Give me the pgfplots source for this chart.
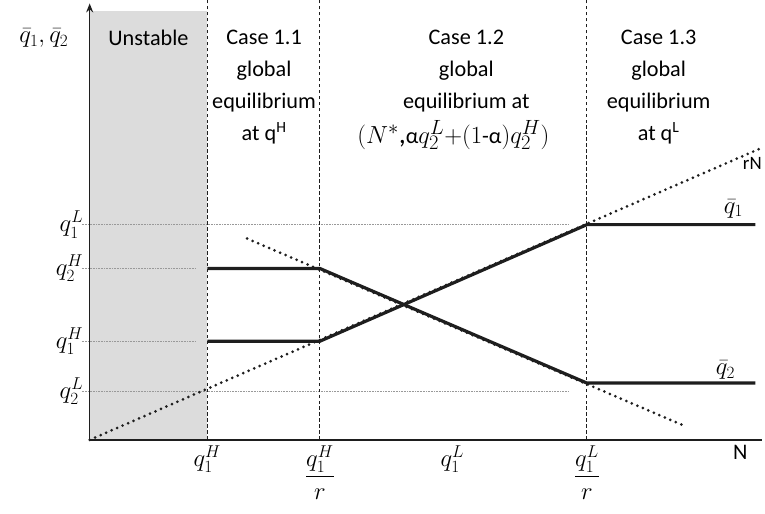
\documentclass[border=0pt]{standalone}
\usepackage{fontspec}
\setmainfont{Carlito}
\usepackage{pgfplots}
\pgfplotsset{compat=1.18}
\usetikzlibrary{arrows.meta}
\definecolor{shade}{RGB}{220,220,220}
\definecolor{ink}{RGB}{30,30,30}

\begin{document}
\begin{tikzpicture}
\begin{axis}[
    x=1bp, y=1bp,
    scale only axis,
    xmin=0, xmax=675,
    ymin=0, ymax=438,
    clip=false,
    axis on top,
    axis lines=left,
    axis line style={line width=1.6bp, draw=ink},
    x axis line style={-},
    y axis line style={-{Stealth[length=9bp,width=7bp]}},
    major tick length=0pt,
    tick style={draw=none},
    xtick={118,231,364,499,653},
    xticklabels={$q_1^H$, {$\displaystyle\frac{q_1^H}{r}$}, $q_1^L$, {$\displaystyle\frac{q_1^L}{r}$}, {\fontsize{22.4}{22.4}\selectfont N}},
    ytick={49,99,172,216},
    yticklabels={$q_2^L$, $q_1^H$, $q_2^H$, $q_1^L$},
    x tick label style={font=\fontsize{26}{26}\selectfont, yshift=-2bp},
    y tick label style={font=\fontsize{26}{26}\selectfont, xshift=-3bp},
    guide/.style={line width=0.8bp, gray!80, dash pattern=on 0.8bp off 0.8bp},
    vdash/.style={line width=0.9bp, ink, dash pattern=on 3.5bp off 2.5bp},
    dots/.style={line width=3bp, ink, line cap=round, dash pattern=on 0pt off 6bp},
    thick line/.style={line width=3.2bp, ink},
]
% unstable region
\addplot[draw=none, fill=shade] coordinates {(0,0) (118,0) (118,430) (0,430)} -- cycle;

% guide lines
\addplot[guide] coordinates {(-8,216) (481,216)};
\addplot[guide] coordinates {(-8,172) (107,172)};
\addplot[guide] coordinates {(-8,99) (107,99)};
\addplot[guide] coordinates {(-8,49) (481,49)};

% case boundaries
\addplot[vdash] coordinates {(118,0) (118,441)};
\addplot[vdash] coordinates {(231,0) (231,441)};
\addplot[vdash] coordinates {(499,0) (499,441)};

% rN and the falling dotted line
\addplot[dots] coordinates {(0,0) (672,292)};
\addplot[dots] coordinates {(158,202) (597,14)};

% qbar_1 and qbar_2
\addplot[thick line] coordinates {(118,99) (231,99) (499,216) (668,216)};
\addplot[thick line] coordinates {(118,172) (231,172) (499,57) (668,57)};

% labels
\node[font=\fontsize{26}{26}\selectfont] at (axis cs:-46,403) {$\bar q_1, \bar q_2$};
\node[font=\fontsize{22.4}{31}\selectfont] at (axis cs:59,403) {Unstable};
\node[font=\fontsize{22.4}{32}\selectfont, align=center] at (axis cs:175,354)
    {Case 1.1\\global\\equilibrium\\at q\textsuperscript{H}};
\node[font=\fontsize{22.4}{32}\selectfont, align=center] at (axis cs:378,370)
    {Case 1.2\\global\\equilibrium at};
\node[font=\fontsize{28.5}{28.5}\selectfont] at (axis cs:365,306)
    {$(N^*$,{\fontsize{22.4}{22.4}\selectfont α}$q_2^L{+}(1${\fontsize{22.4}{22.4}\selectfont -α}$)q_2^H)$};
\node[font=\fontsize{22.4}{32}\selectfont, align=center] at (axis cs:571,354)
    {Case 1.3\\global\\equilibrium\\at q\textsuperscript{L}};
\node[font=\fontsize{19}{19}\selectfont] at (axis cs:665,277) {rN};
\node[font=\fontsize{26}{26}\selectfont] at (axis cs:646,232) {$\bar q_1$};
\node[font=\fontsize{26}{26}\selectfont] at (axis cs:638,70) {$\bar q_2$};

% fix the page to the reference's size
\path (axis cs:-90,-74) rectangle (axis cs:675,441);
\end{axis}
\end{tikzpicture}
\end{document}
